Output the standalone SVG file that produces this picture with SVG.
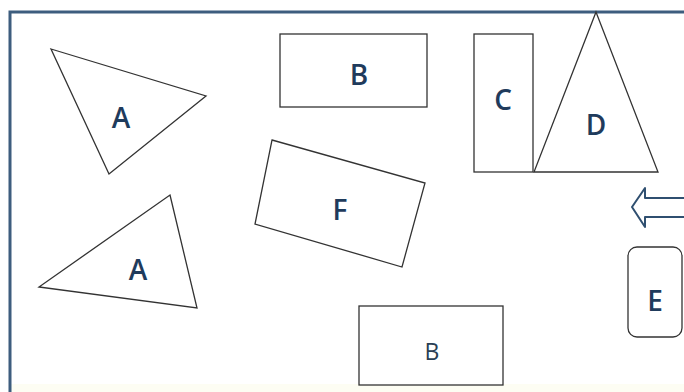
<svg xmlns="http://www.w3.org/2000/svg" width="684" height="392" viewBox="0 0 684 392">
<style>
.s{fill:#fff;stroke:#333;stroke-width:1.3}
.t{font-family:"Open Sans","Liberation Sans",sans-serif;font-size:28px;font-weight:600;fill:#1f3b5c;text-anchor:middle}
.sm{font-size:23px;font-weight:400;fill:#2a3f55}
.frame{stroke:#3d5d7e;stroke-width:3;fill:none}
</style>
<rect x="0" y="0" width="684" height="392" fill="#fff"/>
<rect x="10" y="384" width="674" height="8" fill="#fdfdf3"/>
<path class="frame" d="M10,392 V12 H684"/>
<g id="A1"><polygon class="s" points="51,49 206,96 109,174"/><text class="t" x="121" y="128">A</text></g>
<g id="A2"><polygon class="s" points="170,195 197,308 39,287"/><text class="t" x="138" y="280">A</text></g>
<g id="B1"><rect class="s" x="280" y="34" width="147" height="73"/><text class="t" x="359" y="85">B</text></g>
<g id="F"><polygon class="s" points="272,140 425,183 402,267 255,224"/><text class="t" x="340" y="220">F</text></g>
<g id="B2"><rect class="s" x="359" y="306" width="144" height="79"/><text class="t sm" x="432" y="360">B</text></g>
<g id="C"><rect class="s" x="474" y="34" width="59" height="138"/><text class="t" x="503" y="110">C</text></g>
<g id="D"><polygon class="s" points="596,12 534,172 658,172"/><text class="t" x="596" y="135">D</text></g>
<g id="E"><rect class="s" x="628" y="247" width="54" height="90" rx="9"/><text class="t" x="655" y="311">E</text></g>
<g id="connectors"><path d="M632,207 L645,188 V198 H686 V217 H645 V227 Z" fill="#fff" stroke="#2f4f70" stroke-width="2" stroke-linejoin="round"/></g>
</svg>
